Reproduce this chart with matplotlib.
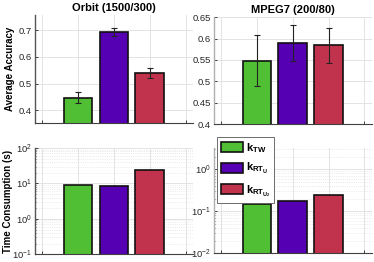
import matplotlib
matplotlib.use("Agg")
import matplotlib.pyplot as plt
from matplotlib.patches import Patch
import numpy as np

plt.rcParams['font.family'] = ['Liberation Sans', 'DejaVu Sans']
plt.rcParams['mathtext.fontset'] = 'custom'
plt.rcParams['mathtext.rm'] = 'Liberation Sans'
plt.rcParams['mathtext.bf'] = 'Liberation Sans:bold'

methods = [r'$\mathbf{k_{TW}}$', r'$\mathbf{k_{RT_U}}$', r'$\mathbf{k_{RT_{U_2}}}$']
colors = ['#50bf34', '#5600b4', '#c1334d']
x_pos = [1, 2, 3]

orbit_acc = [0.447, 0.692, 0.539]
orbit_err = [0.021, 0.015, 0.018]
mpeg_acc = [0.548, 0.589, 0.585]
mpeg_err = [0.060, 0.042, 0.041]
orbit_time = [8.9, 8.4, 23.7]
mpeg_time = [0.149, 0.179, 0.244]

W, H = 374, 262
fig = plt.figure(figsize=(W / 100, H / 100), dpi=100)


def ax_px(x0, x1, y0, y1):
    return fig.add_axes([x0 / W, 1 - y1 / H, (x1 - x0) / W, (y1 - y0) / H])


def style(ax, left_color):
    ax.set_xlim(-0.2, 4.2)
    ax.set_xticks([0, 1, 2, 3, 4])
    ax.set_xticklabels([])
    ax.spines['top'].set_visible(False)
    ax.spines['right'].set_visible(False)
    ax.spines['bottom'].set_color('#404040')
    ax.spines['left'].set_color(left_color)
    ax.spines['left'].set_linewidth(1.0)
    ax.tick_params(direction='in', length=2, width=0.6, labelsize=6.8,
                   colors='#262626', pad=2)
    ax.tick_params(which='minor', direction='in', length=1, width=0.4)
    ax.set_axisbelow(True)
    ax.grid(True, which='major', color='#e3e3e3', linewidth=0.7)


def bars(ax, vals, err=None):
    ax.bar(x_pos, vals, width=0.8, color=colors, edgecolor='#111111',
           linewidth=1.2, zorder=2)
    if err is not None:
        ax.errorbar(x_pos, vals, yerr=err, fmt='none', ecolor='#222222',
                    elinewidth=0.8, capsize=2, capthick=0.8, zorder=3)


# Top-left
ax1 = ax_px(35, 192.7, 15, 123)
style(ax1, '#555555')
bars(ax1, orbit_acc, orbit_err)
ax1.set_ylim(0.352, 0.757)
ax1.set_yticks([0.4, 0.5, 0.6, 0.7])
ax1.set_yticklabels(['0.4', '0.5', '0.6', '0.7'])
ax1.set_title('Orbit (1500/300)', fontsize=8, fontweight='bold', pad=3)
ax1.set_ylabel('Average Accuracy', fontsize=7, fontweight='bold')
ax1.yaxis.set_label_coords(-0.125, 0.5)

# Top-right
ax2 = ax_px(214, 371.5, 17.3, 124)
style(ax2, '#b0b0b0')
bars(ax2, mpeg_acc, mpeg_err)
ax2.set_ylim(0.4, 0.65)
ax2.set_yticks([0.4, 0.45, 0.5, 0.55, 0.6, 0.65])
ax2.set_yticklabels(['0.4', '0.45', '0.5', '0.55', '0.6', '0.65'])
ax2.set_title('MPEG7 (200/80)', fontsize=8, fontweight='bold', pad=3)

# Bottom-left
ax3 = ax_px(35, 192.7, 148, 254.3)
ax3.set_yscale('log')
style(ax3, '#555555')
ax3.grid(True, which='minor', axis='y', color='#dcdcdc', linewidth=0.5,
         linestyle=':')
bars(ax3, orbit_time)
ax3.set_ylim(0.1, 100)
ax3.set_yticks([0.1, 1, 10, 100])
ax3.set_ylabel('Time Consumption (s)', fontsize=7, fontweight='bold')
ax3.yaxis.set_label_coords(-0.14, 0.5)

# Bottom-right
ax4 = ax_px(214, 371.5, 147.7, 253.3)
ax4.set_yscale('log')
style(ax4, '#b0b0b0')
ax4.grid(True, which='minor', axis='y', color='#dcdcdc', linewidth=0.5,
         linestyle=':')
bars(ax4, mpeg_time)
ax4.set_ylim(0.01, 3.27)
ax4.set_yticks([0.01, 0.1, 1])

handles = [Patch(facecolor=c, edgecolor='#111111', linewidth=1.2) for c in colors]
leg = fig.legend(handles, methods, loc='upper left',
                 bbox_to_anchor=(217 / W, 1 - 137 / H), fontsize=8,
                 handlelength=2.0, handleheight=1.0, handletextpad=0.25,
                 labelspacing=0.6, borderpad=0.35, borderaxespad=0,
                 fancybox=False, framealpha=1, edgecolor='#555555')
leg.get_frame().set_linewidth(0.6)

fig.savefig('out.png', dpi=100)
